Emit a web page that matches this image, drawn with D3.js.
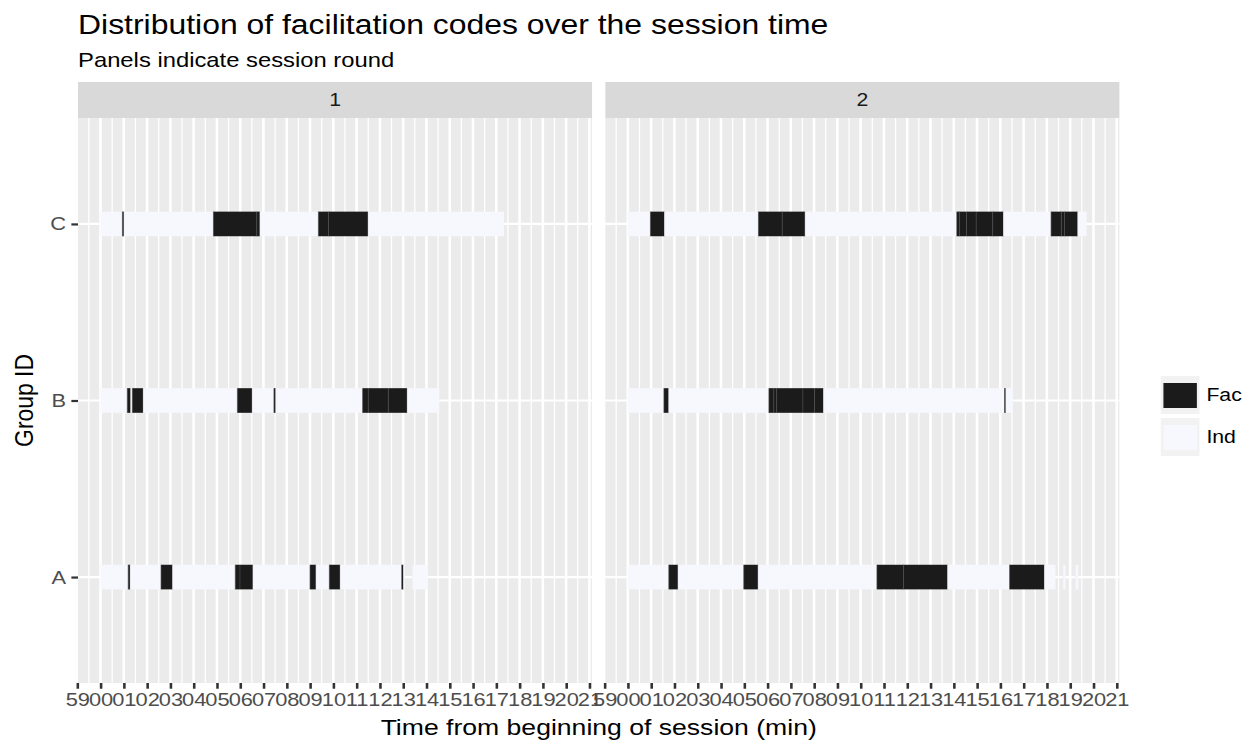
<!DOCTYPE html>
<html><head><meta charset="utf-8">
<script src="https://cdn.jsdelivr.net/npm/d3@7"></script>
<style>html,body{margin:0;padding:0;background:#fff;overflow:hidden}</style>
</head><body>
<svg id="chart" width="1254" height="749" viewBox="0 0 1080 749" preserveAspectRatio="none"></svg>
<script>
// ---------- data ----------
const rounds = ["1", "2"];
const groups = ["C", "B", "A"];
const codes = ["Fac", "Ind"];
const tickMinutes = [-1,0,1,2,3,4,5,6,7,8,9,10,11,12,13,14,15,16,17,18,19,20,21];
const tickLabels = ["59","00","01","02","03","04","05","06","07","08","09","10","11","12","13","14","15","16","17","18","19","20","21"];

// segments: [start minute, end minute, code]
const r1_C = [[0,0.94,"Ind"],[0.94,1.01,"Fac"],[1.01,4.85,"Ind"],[4.85,6.71,"Fac"],[6.71,6.85,"Fac"],[6.85,9.36,"Ind"],[9.36,9.79,"Fac"],[9.79,11.5,"Fac"],[11.5,17.33,"Ind"]];
const r1_B = [[0,1.15,"Ind"],[1.15,1.30,"Fac"],[1.30,1.37,"Ind"],[1.37,1.84,"Fac"],[1.84,5.88,"Ind"],[5.88,6.52,"Fac"],[6.52,7.45,"Ind"],[7.45,7.53,"Fac"],[7.53,11.26,"Ind"],[11.26,11.5,"Fac"],[11.5,12.36,"Fac"],[12.36,13.18,"Fac"],[13.18,14.55,"Ind"]];
const r1_A = [[0,1.19,"Ind"],[1.19,1.28,"Fac"],[1.28,2.60,"Ind"],[2.60,3.10,"Fac"],[3.10,5.79,"Ind"],[5.79,5.99,"Fac"],[5.99,6.55,"Fac"],[6.55,9.0,"Ind"],[9.0,9.26,"Fac"],[9.26,9.83,"Ind"],[9.83,10.30,"Fac"],[10.30,12.94,"Ind"],[12.94,13.02,"Fac"],[13.02,13.08,"Ind"],[13.39,14.05,"Ind"]];
const r2_C = [[0,0.97,"Ind"],[0.97,1.58,"Fac"],[1.58,5.61,"Ind"],[5.61,6.63,"Fac"],[6.63,7.62,"Fac"],[7.62,14.13,"Ind"],[14.13,14.25,"Fac"],[14.25,14.55,"Fac"],[14.55,14.96,"Fac"],[14.96,15.67,"Fac"],[15.67,16.14,"Fac"],[16.14,18.18,"Ind"],[18.18,18.62,"Fac"],[18.62,18.76,"Fac"],[18.76,19.33,"Fac"],[19.33,19.71,"Ind"]];
const r2_B = [[0,1.55,"Ind"],[1.55,1.76,"Fac"],[1.76,6.06,"Ind"],[6.06,6.27,"Fac"],[6.27,6.39,"Fac"],[6.39,7.52,"Fac"],[7.52,8.02,"Fac"],[8.02,8.41,"Fac"],[8.41,16.18,"Ind"],[16.18,16.24,"Fac"],[16.24,16.54,"Ind"]];
const r2_A = [[0,1.76,"Ind"],[1.76,2.16,"Fac"],[2.16,4.98,"Ind"],[4.98,5.60,"Fac"],[5.60,10.70,"Ind"],[10.70,11.84,"Fac"],[11.84,13.74,"Fac"],[13.74,16.40,"Ind"],[16.40,17.90,"Fac"],[17.90,18.37,"Ind"],[18.69,18.80,"Ind"],[19.23,19.35,"Ind"]];

const panelData = {
  "1": {C: r1_C, B: r1_B, A: r1_A},
  "2": {C: r2_C, B: r2_B, A: r2_A}
};

// ---------- styles / layout (virtual 1080-wide space) ----------
const FONT = "'Liberation Sans', Arial, Helvetica, sans-serif";
const colors = {Fac: "#1b1b1b", Ind: "#f7f7fe"};
const seam = {Fac: "#484848", Ind: "#ececf4"};
const panelLeft = [67.2, 521.36];
const PW = 442.7;
const panelTop = 118, panelBottom = 683, stripTop = 82;
const barH = 24.6;

const svg = d3.select("#chart");
svg.append("rect").attr("width", 1080).attr("height", 749).attr("fill", "#fff");

const x = d3.scaleLinear().domain([-0.966, 21.114]).range([0, PW]);
const y = d3.scalePoint().domain(groups).range([panelTop, panelBottom]).padding(0.6);
const color = d3.scaleOrdinal().domain(codes).range([colors.Fac, colors.Ind]);

const minorTicks = tickMinutes.slice(1).map((d, i) => (d + tickMinutes[i]) / 2);

rounds.forEach((r, pi) => {
  const g = svg.append("g").attr("transform", `translate(${panelLeft[pi]},0)`);
  // strip
  g.append("rect").attr("x", 0).attr("y", stripTop).attr("width", PW).attr("height", panelTop - stripTop).attr("fill", "#d9d9d9");
  g.append("text").attr("x", PW / 2).attr("y", 106.5).attr("text-anchor", "middle")
    .attr("font-family", FONT).attr("font-size", 18.3).attr("fill", "#1a1a1a").text(r);
  // panel background
  g.append("rect").attr("x", 0).attr("y", panelTop).attr("width", PW).attr("height", panelBottom - panelTop).attr("fill", "#ebebeb");
  const inRange = d => x(d) >= 0 && x(d) <= PW;
  g.selectAll("line.minor").data(minorTicks.filter(inRange)).join("line")
    .attr("x1", d => x(d)).attr("x2", d => x(d)).attr("y1", panelTop).attr("y2", panelBottom)
    .attr("stroke", "#fff").attr("stroke-width", 1.11);
  g.selectAll("line.major").data(tickMinutes.filter(inRange)).join("line")
    .attr("x1", d => x(d)).attr("x2", d => x(d)).attr("y1", panelTop).attr("y2", panelBottom)
    .attr("stroke", "#fff").attr("stroke-width", 2.22);
  g.selectAll("line.hg").data(groups).join("line")
    .attr("x1", 0).attr("x2", PW).attr("y1", d => y(d)).attr("y2", d => y(d))
    .attr("stroke", "#fff").attr("stroke-width", 2.22);
  // bars
  groups.forEach(grp => {
    const segs = panelData[r][grp];
    g.append("g").selectAll("rect").data(segs).join("rect")
      .attr("x", d => x(d[0])).attr("width", d => x(d[1]) - x(d[0]))
      .attr("y", y(grp) - barH / 2).attr("height", barH)
      .attr("fill", d => color(d[2]));
    g.append("g").selectAll("line").data(segs.filter((d, i) => i > 0)).join("line")
      .attr("x1", d => x(d[0])).attr("x2", d => x(d[0]))
      .attr("y1", y(grp) - barH / 2).attr("y2", y(grp) + barH / 2)
      .attr("stroke", d => seam[d[2]]).attr("stroke-width", 0.6);
  });
  // x axis
  const ax = g.append("g").attr("transform", `translate(0,${panelBottom})`)
    .call(d3.axisBottom(x).tickValues(tickMinutes).tickFormat((d, i) => tickLabels[i]).tickSize(5.73).tickPadding(3.6));
  ax.select(".domain").remove();
  ax.selectAll(".tick line").attr("stroke", "#333").attr("stroke-width", 2.22);
  ax.selectAll(".tick text").attr("font-family", FONT).attr("font-size", 18.8).attr("fill", "#4d4d4d");
});

// y axis
const ay = svg.append("g").attr("transform", `translate(${panelLeft[0]},0)`)
  .call(d3.axisLeft(y).tickSize(5.73).tickPadding(4.6));
ay.select(".domain").remove();
ay.selectAll(".tick line").attr("stroke", "#333").attr("stroke-width", 2.22);
ay.selectAll(".tick text").attr("font-family", FONT).attr("font-size", 18.8).attr("fill", "#4d4d4d");

// titles
svg.append("text").attr("x", 67.2).attr("y", 34).attr("font-family", FONT).attr("font-size", 27.5).attr("fill", "#000")
  .text("Distribution of facilitation codes over the session time");
svg.append("text").attr("x", 67.2).attr("y", 67).attr("font-family", FONT).attr("font-size", 20.5).attr("fill", "#000")
  .text("Panels indicate session round");
svg.append("text").attr("x", (panelLeft[0] + panelLeft[1] + PW) / 2).attr("y", 735).attr("text-anchor", "middle")
  .attr("font-family", FONT).attr("font-size", 22.9).attr("fill", "#000")
  .text("Time from beginning of session (min)");
svg.append("text").attr("transform", `translate(28,${(panelTop + panelBottom) / 2}) rotate(-90)`).attr("text-anchor", "middle")
  .attr("font-family", FONT).attr("font-size", 22.9).attr("fill", "#000").text("Group ID");

// legend
const legY = [376, 418];
const leg = svg.append("g");
codes.forEach((c, i) => {
  leg.append("rect").attr("x", 999.7).attr("y", legY[i]).attr("width", 33.3).attr("height", 38).attr("fill", "#f2f2f2");
  leg.append("rect").attr("x", 1002).attr("y", legY[i] + 7).attr("width", 28.8).attr("height", 25).attr("fill", color(c));
  leg.append("text").attr("x", 1039).attr("y", legY[i] + 25.5).attr("font-family", FONT).attr("font-size", 18.3)
    .attr("fill", "#000").text(c);
});
</script>
</body></html>
